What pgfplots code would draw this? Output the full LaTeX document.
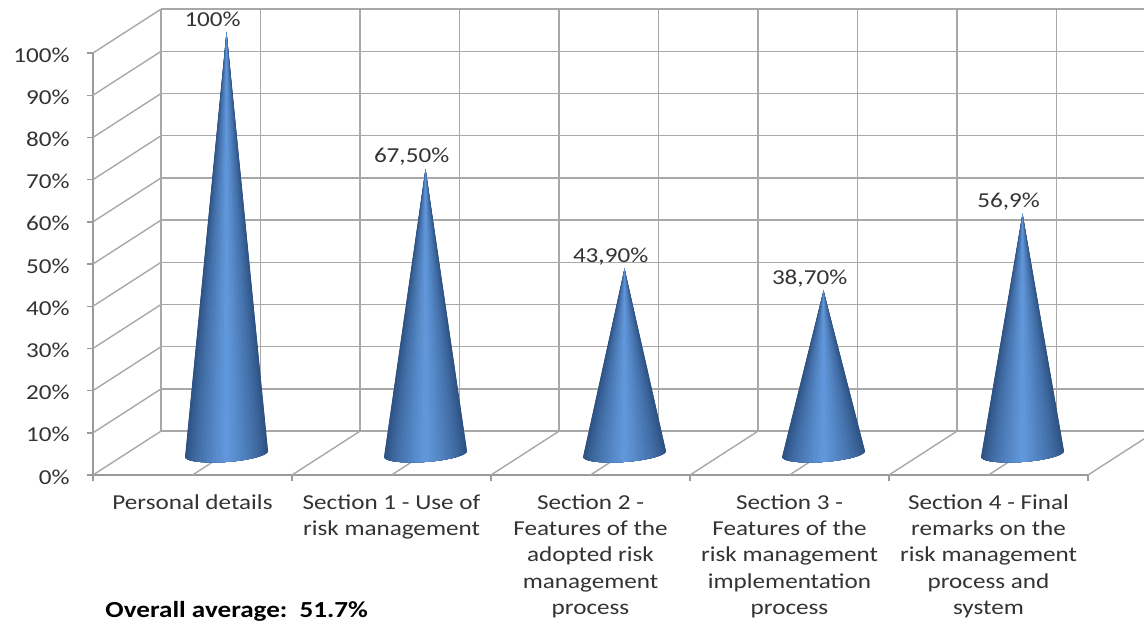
\documentclass[border=0pt]{standalone}
\usepackage{pgfplots}
\pgfplotsset{compat=1.18}
\usepackage{fontspec}
\setmainfont[FakeStretch=1.18]{Carlito}
\definecolor{gridgray}{HTML}{A8A8A8}
\definecolor{axisgray}{HTML}{9A9A9A}
\definecolor{labelgray}{HTML}{333333}
\newcommand{\labelfont}{\fontsize{21.3}{26}\selectfont}

% Cone painted as nested fans sharing the apex: the full dark silhouette first,
% then ever narrower and lighter fans, so the shading runs rim to centre.
% #1 category centre on the floor, #2 value, #3 printed label
\newcommand{\cone}[3]{%
  \pgfmathsetmacro{\top}{5+#2}%
  \foreach \lev in {0,...,17}{%
    \pgfmathsetmacro{\half}{90-5*\lev}%
    \xdef\fan{(#1,\top)}%
    \pgfmathsetmacro{\steps}{int(\half/5)}%
    \foreach \s in {-\steps,...,\steps}{%
      \pgfmathsetmacro{\th}{5*\s}%
      \pgfmathsetmacro{\xa}{#1+0.2085*sin(\th)}%
      \pgfmathsetmacro{\ya}{5-1.9*cos(\th)+0.7*sin(\th)}%
      \xdef\fan{\fan (\xa,\ya)}%
    }%
    \pgfmathsetmacro{\lit}{pow(1-sin(\half),0.72)}%
    \pgfmathsetmacro{\cr}{0.17+\lit*(0.39-0.17)}%
    \pgfmathsetmacro{\cg}{0.31+\lit*(0.61-0.31)}%
    \pgfmathsetmacro{\cb}{0.50+\lit*(0.88-0.50)}%
    \edef\layer{\noexpand\addplot[draw=none,
        fill={rgb,1:red,\cr;green,\cg;blue,\cb}]
      coordinates {\fan} -- cycle;}%
    \layer
  }%
  \pgfmathsetmacro{\lx}{#1-0.07}%
  \pgfmathsetmacro{\ly}{5+#2+2.9}%
  \edef\valnode{\noexpand\node[font=\noexpand\labelfont, text=labelgray, anchor=center]
      at (axis cs:\lx,\ly) {#3};}%
  \valnode
}

\begin{document}
\begin{tikzpicture}
\useasboundingbox (-93pt,-147pt) rectangle (1051pt,475pt);
\begin{axis}[
  scale only axis,
  width=995pt, height=422pt,
  xmin=0, xmax=5, ymin=0, ymax=100,
  clip=false,
  axis lines=left,
  axis line style={-, axisgray, line width=1.4pt},
  tick style={axisgray, line width=1.4pt},
  tick align=outside,
  major tick length=6pt,
  ytick={0,10,...,100},
  yticklabels={0\%,10\%,20\%,30\%,40\%,50\%,60\%,70\%,80\%,90\%,100\%},
  y tick label style={font=\labelfont, text=labelgray, xshift=-14pt, yshift=-2pt},
  xtick={0,...,5},
  xticklabels={},
  extra x ticks={0.5,1.5,2.5,3.5,4.5},
  extra x tick style={major tick length=0pt, tick style={draw=none}},
  extra x tick labels={
    Personal details,
    Section 1 - Use of\\risk management,
    Section 2 -\\Features of the\\adopted risk\\management\\process,
    Section 3 -\\Features of the\\risk management\\implementation\\process,
    Section 4 - Final\\remarks on the\\risk management\\process and\\system},
  x tick label style={font=\fontsize{21.3}{26.3}\selectfont, text=labelgray,
    align=center, anchor=north, yshift=-16pt},
]
% back wall: horizontal rules and half-category verticals
\pgfplotsinvokeforeach{10.4,20.4,...,110.4}{
  \addplot[gridgray, line width=1.4pt] coordinates {(0.342,#1) (5.2814,#1)};
}
\pgfplotsinvokeforeach{0.342,0.842,...,4.9}{
  \addplot[gridgray, line width=1.4pt] coordinates {(#1,10.4) (#1,110.4)};
}
% side wall diagonals
\pgfplotsinvokeforeach{0,10,...,100}{
  \addplot[gridgray, line width=1.4pt] coordinates {(0,#1) (0.342,#1+10.4)};
}
% floor diagonals
\pgfplotsinvokeforeach{0.5,1,...,4.5}{
  \addplot[gridgray, line width=1.4pt] coordinates {(#1,0) (#1+0.342,10.4)};
}
\addplot[gridgray, line width=1.4pt] coordinates {(5,0) (5.2814,8.56)};

\cone{0.671}{100}{100\%}
\cone{1.671}{67.5}{67,50\%}
\cone{2.671}{43.9}{43,90\%}
\cone{3.671}{38.7}{38,70\%}
\cone{4.671}{56.9}{56,9\%}

\node[font=\fontsize{23}{26}\bfseries\selectfont, anchor=west, text=black]
  at (axis cs:0.045,-32.3) {Overall average:\ \ 51.7\%};
\end{axis}
\end{tikzpicture}
\end{document}
